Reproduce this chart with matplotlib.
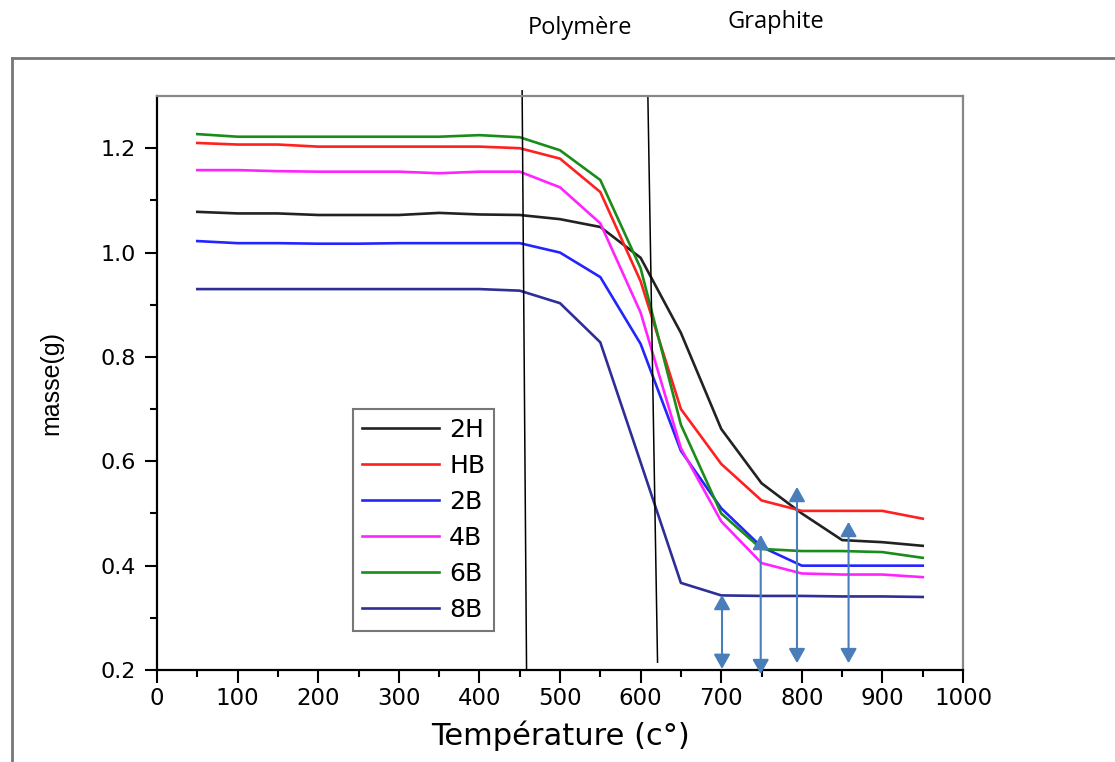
import numpy as np
import matplotlib
matplotlib.use("Agg")
import matplotlib.pyplot as plt
from matplotlib.lines import Line2D

plt.rcParams['font.family'] = ['DejaVu Sans']

temp = [50, 100, 150, 200, 250, 300, 350, 400, 450, 500,
        550, 600, 650, 700, 750, 800, 850, 900, 950]

m_2H = [1.078, 1.075, 1.075, 1.072, 1.072, 1.072, 1.076, 1.073, 1.072, 1.064,
        1.049, 0.990, 0.846, 0.662, 0.558, 0.500, 0.449, 0.445, 0.438]
m_HB = [1.210, 1.207, 1.207, 1.203, 1.203, 1.203, 1.203, 1.203, 1.200, 1.180,
        1.116, 0.945, 0.700, 0.595, 0.525, 0.505, 0.505, 0.505, 0.490]
m_2B = [1.022, 1.018, 1.018, 1.017, 1.017, 1.018, 1.018, 1.018, 1.018, 1.000,
        0.953, 0.825, 0.620, 0.510, 0.436, 0.400, 0.400, 0.400, 0.400]
m_4B = [1.158, 1.158, 1.156, 1.155, 1.155, 1.155, 1.152, 1.155, 1.155, 1.125,
        1.056, 0.885, 0.625, 0.485, 0.405, 0.385, 0.383, 0.383, 0.378]
m_6B = [1.227, 1.222, 1.222, 1.222, 1.222, 1.222, 1.222, 1.225, 1.221, 1.196,
        1.139, 0.970, 0.670, 0.500, 0.432, 0.428, 0.428, 0.426, 0.415]
m_8B = [0.930, 0.930, 0.930, 0.930, 0.930, 0.930, 0.930, 0.930, 0.927, 0.903,
        0.828, 0.598, 0.367, 0.343, 0.342, 0.342, 0.341, 0.341, 0.340]

labels = ["2H", "HB", "2B", "4B", "6B", "8B"]
colors = ["#222222", "#ff2020", "#2424ff", "#ff24ff", "#1a8c1a", "#2e2e96"]

# limites des zones (haut, bas)
zone_x = [(453, 458.5), (609, 621)]
zone_y = [(1.31, 0.2), (1.30, 0.215)]

# fleches doubles : x, y bas, y haut
arrow_x = [701, 749, 794, 858]
arrow_lo = [0.202, 0.192, 0.213, 0.213]
arrow_hi = [0.344, 0.459, 0.551, 0.484]

fig = plt.figure(figsize=(11.15, 7.62), dpi=100)
ax = fig.add_axes([0.1408, 0.1207, 0.7229, 0.7533])

for m, lab, c in zip([m_2H, m_HB, m_2B, m_4B, m_6B, m_8B], labels, colors):
    ax.plot(temp, m, color=c, lw=1.9, label=lab)

for (x0, x1), (y0, y1) in zip(zone_x, zone_y):
    ax.plot([x0, x1], [y0, y1], color="black", lw=1.1, clip_on=False)

for x, lo, hi in zip(arrow_x, arrow_lo, arrow_hi):
    ax.annotate("", xy=(x, hi), xytext=(x, lo),
                arrowprops=dict(arrowstyle="<|-|>,head_length=0.8,head_width=0.45",
                                color="#4a7ebb", lw=1.5,
                                mutation_scale=11, shrinkA=0, shrinkB=0))

ax.set_xlim(0, 1000)
ax.set_ylim(0.2, 1.3)
ax.set_xticks(np.arange(0, 1001, 100))
ax.set_xticks(np.arange(50, 1000, 100), minor=True)
ax.set_yticks([0.2, 0.4, 0.6, 0.8, 1.0, 1.2])
ax.set_yticks([0.3, 0.5, 0.7, 0.9, 1.1], minor=True)
ax.tick_params(which="major", direction="out", length=9, width=1.5, labelsize=16, pad=6)
ax.tick_params(which="minor", direction="out", length=5, width=1.5)
ax.tick_params(axis="x", which="major", labelsize=16.5, pad=3)
for s in ["left", "bottom"]:
    ax.spines[s].set_linewidth(1.6)
    ax.spines[s].set_color("black")
for s in ["top", "right"]:
    ax.spines[s].set_linewidth(1.6)
    ax.spines[s].set_color("#888888")

ax.set_xlabel("Température (c°)", fontsize=22, labelpad=8)
ax.set_ylabel("masse(g)", fontsize=18, labelpad=27,
              family=["Liberation Sans Narrow", "Liberation Sans"])

leg = ax.legend(loc="lower left", bbox_to_anchor=(0.243, 0.068), fontsize=18,
                handlelength=3.1, labelspacing=0.48, handletextpad=0.4,
                borderpad=0.35, borderaxespad=0, fancybox=False, framealpha=1)
leg.get_frame().set_edgecolor("#777777")
leg.get_frame().set_linewidth(1.5)

# cadre exterieur
fig.add_artist(Line2D([12 / 1115, 1.0], [1 - 58 / 762, 1 - 58 / 762],
                      color="#777777", lw=2))
fig.add_artist(Line2D([12 / 1115, 12 / 1115], [1 - 58 / 762, 0.0],
                      color="#777777", lw=2))

fig.text(580 / 1115, 1 - 28 / 762, "Polymère", fontsize=17, family="Open Sans",
         ha="center", va="center")
fig.text(776 / 1115, 1 - 22 / 762, "Graphite", fontsize=17, family="Open Sans",
         ha="center", va="center")

fig.savefig("out.png", dpi=100)
